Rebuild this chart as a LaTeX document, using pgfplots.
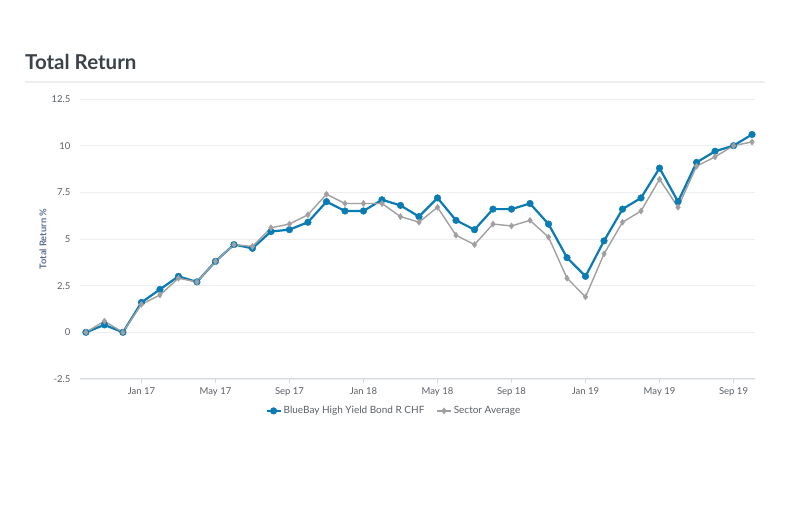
\documentclass[border=0pt]{standalone}
\usepackage{fontspec}
\setmainfont{Lato}
\usepackage{pgfplots}
\pgfplotsset{compat=1.18}

\definecolor{fundblue}{HTML}{0A7BB3}
\definecolor{sectorgray}{HTML}{A0A0A2}
\definecolor{gridgray}{HTML}{EDEEF0}
\definecolor{axisgray}{HTML}{D5D9E0}
\definecolor{ticktext}{HTML}{5A5F66}
\definecolor{titletext}{HTML}{3B4248}
\definecolor{ylabeltext}{HTML}{5B6E96}

\begin{document}
\begin{tikzpicture}[x=1pt,y=1pt]
\useasboundingbox (0,0) rectangle (790,527);
\node[anchor=west, font=\fontsize{20.5}{24}\selectfont\bfseries, text=titletext, inner sep=0]
  at (25,465) {Total Return};
\draw[gridgray, line width=1.2pt] (25,445) -- (765,445);
\begin{axis}[
  at={(80pt,148pt)}, anchor=south west,
  scale only axis, width=675pt, height=280pt,
  xmin=-0.32, xmax=36.16,
  ymin=-2.5, ymax=12.5,
  ytick={-2.5,0,2.5,5,7.5,10,12.5},
  xtick={3,7,11,15,19,23,27,31,35},
  xticklabels={Jan 17,May 17,Sep 17,Jan 18,May 18,Sep 18,Jan 19,May 19,Sep 19},
  axis x line*=bottom, axis y line*=left,
  x axis line style={axisgray, line width=1pt, -},
  y axis line style={draw=none},
  ymajorgrids, grid style={gridgray, line width=0.9pt},
  xtick style={axisgray, line width=0.8pt},
  tick align=outside, major tick length=4pt,
  ytick style={draw=none},
  /pgf/number format/assume math mode=true,
  tick label style={font=\fontsize{9.5}{11}\selectfont, text=ticktext},
  yticklabel style={xshift=-2pt},
  xticklabel style={yshift=-1pt},
  ylabel={Total Return \%},
  every axis y label/.style={at={(-37pt,0.5)}, rotate=90, anchor=center,
    font=\fontsize{9.3}{11}\selectfont\bfseries, text=ylabeltext},
  legend columns=2,
  legend style={at={(0.465,-0.114)}, anchor=center, draw=none, fill=none,
    font=\fontsize{10}{12}\selectfont, text=ticktext,
    /tikz/every even column/.append style={column sep=10pt}},
  legend image code/.code={
    \draw[mark repeat=2, mark phase=2, #1] plot coordinates {(0pt,0pt) (7pt,0pt) (14pt,0pt)};},
  clip=false,
]
\addplot[fundblue, line width=2.2pt, mark=*, mark size=3.3pt,
  mark options={fill=fundblue, draw=fundblue, line width=0.5pt}] coordinates {
(0,0.0) (1,0.4) (2,0.0) (3,1.6) (4,2.3) (5,3.0) (6,2.7) (7,3.8) (8,4.7)
(9,4.5) (10,5.4) (11,5.5) (12,5.9) (13,7.0) (14,6.5) (15,6.5) (16,7.1)
(17,6.8) (18,6.2) (19,7.2) (20,6.0) (21,5.5) (22,6.6) (23,6.6) (24,6.9)
(25,5.8) (26,4.0) (27,3.0) (28,4.9) (29,6.6) (30,7.2) (31,8.8) (32,7.0)
(33,9.1) (34,9.7) (35,10.0) (36,10.6)};
\addlegendentry{BlueBay High Yield Bond R CHF}
\addplot[sectorgray, line width=1.4pt, mark=diamond*, mark size=3pt,
  mark options={fill=sectorgray, draw=sectorgray, line width=0.5pt}] coordinates {
(0,0.0) (1,0.6) (2,0.0) (3,1.5) (4,2.0) (5,2.9) (6,2.7) (7,3.8) (8,4.7)
(9,4.6) (10,5.6) (11,5.8) (12,6.3) (13,7.4) (14,6.9) (15,6.9) (16,6.9)
(17,6.2) (18,5.9) (19,6.7) (20,5.2) (21,4.7) (22,5.8) (23,5.7) (24,6.0)
(25,5.1) (26,2.9) (27,1.9) (28,4.2) (29,5.9) (30,6.5) (31,8.2) (32,6.7)
(33,8.9) (34,9.4) (35,10.0) (36,10.2)};
\addlegendentry{Sector Average}
\end{axis}
\end{tikzpicture}
\end{document}
